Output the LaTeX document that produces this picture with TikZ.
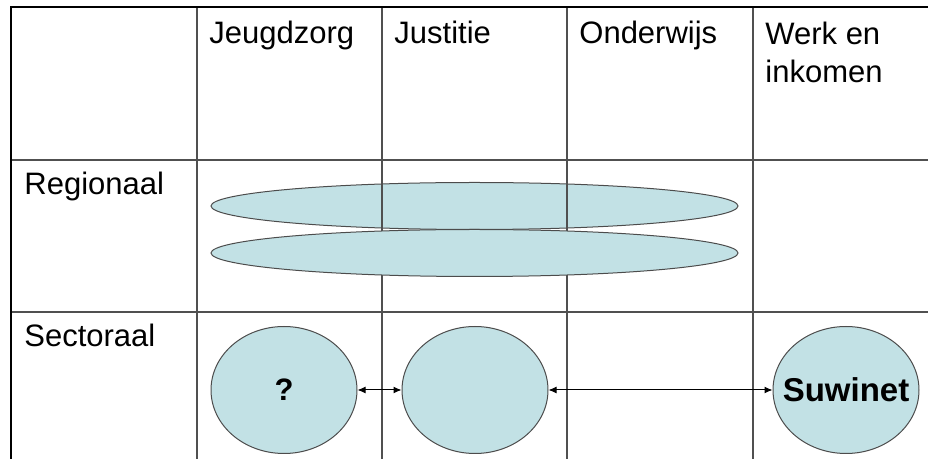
\documentclass[tikz,border=0pt]{standalone}
\usepackage{fontspec}
\setmainfont{Liberation Sans}
\usetikzlibrary{arrows.meta, shapes.geometric}

\definecolor{bubble}{RGB}{194,225,229}
\definecolor{gridline}{RGB}{80,80,80}

\begin{document}
\begin{tikzpicture}[x=0.5pt, y=-0.5pt,
    cell/.style={anchor=base west, inner sep=0pt, font=\fontsize{15.5}{19}\selectfont, align=left},
    blob/.style={draw=black!70, fill=bubble, ellipse, inner sep=0pt, line width=0.5pt},
    wide/.style={blob, minimum width=263.5pt, minimum height=23.5pt},
    round/.style={blob, minimum width=73pt, minimum height=63.5pt},
    grid/.style={draw=gridline, line width=0.7pt},
    frame/.style={draw=black, line width=1.4pt},
    arr/.style={{Latex[length=4pt,width=3.5pt]}-{Latex[length=4pt,width=3.5pt]}, line width=0.5pt}]
  \useasboundingbox (0,0) rectangle (928,459);
  % upper regional band lies under the grid lines
  \node[wide] (reg1) at (474.5,206) {};
  \foreach \x in {197,382,567,753} \draw[grid] (\x,7) -- (\x,459);
  \foreach \y in {160,312} \draw[grid] (11,\y) -- (928,\y);
  \draw[frame] (11,459) -- (11,7) -- (928,7);
  % column heads
  \node[cell] (jeugd) at (209,44) {Jeugdzorg};
  \node[cell] (just)  at (394,44) {Justitie};
  \node[cell] (onder) at (579,44) {Onderwijs};
  \node[cell] (werk)  at (765,83) {Werk en\\inkomen};
  % row heads
  \node[cell] (regio)  at (24,195) {Regionaal};
  \node[cell] (sector) at (24,347) {Sectoraal};
  % lower regional band covers the grid
  \node[wide] (reg2) at (474.5,253) {};
  % sectoral systems
  \node[round, label={[font=\fontsize{15.5}{19}\selectfont\bfseries]center:?}] (jz) at (284,390) {};
  \node[round] (js) at (475,390) {};
  \node[round, label={[font=\fontsize{16.5}{19}\selectfont\bfseries]center:Suwinet}] (suwi) at (846,390) {};
  \draw[arr] (jz) -- (js);
  \draw[arr] (js) -- (suwi);
\end{tikzpicture}
\end{document}
